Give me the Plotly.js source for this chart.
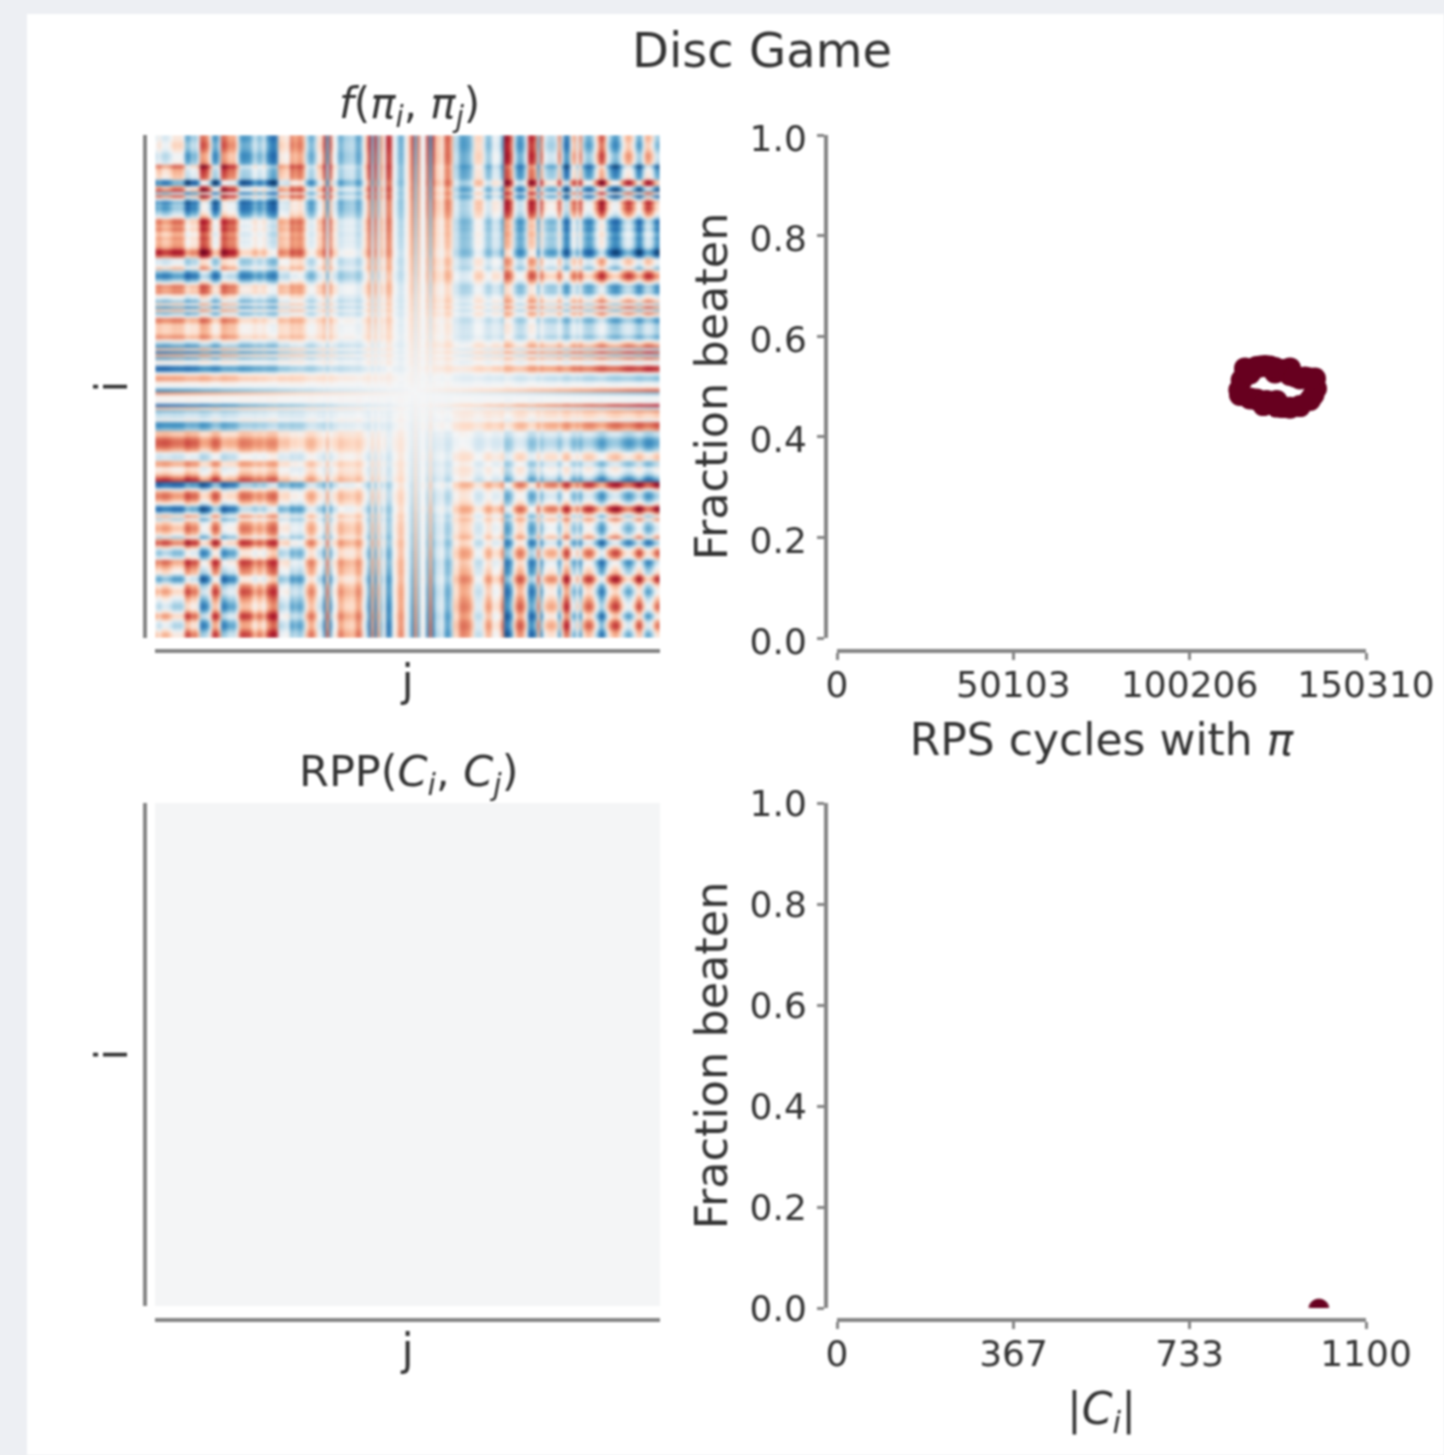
<!DOCTYPE html>
<html>
<head>
<meta charset="utf-8">
<script src="https://cdn.plot.ly/plotly-3.0.1.min.js"></script>
<style>
html,body{margin:0;padding:0;background:#edeff3;}
#chart{width:1444px;height:1455px;filter:blur(1.3px);}
</style>
</head>
<body>
<div id="chart"></div>
<script>
// Profile of the columns of f(pi_i, pi_j), read along the top edge of the panel
const columnProfile = [.05,-.1,.1,.15,.1,-.05,-.2,-.15,-.2,-.05,
 .55,.5,.3,.4,.1,-.7,-.65,-.55,-.1,.6,
 .65,.3,-.7,-.65,-.5,-.45,-.5,-.1,.55,.65,
 .6,.6,.4,.2,.45,.4,.2,.6,.75,.85,
 .75,-.25,-.2,-.15,-.1,-.6,-.45,-.5,-.6,-.4,
 .2,.5,.55,.3,-.15,-.2,-.75,.6,-.7,-.05,
 .05,.55,.5,.35,.35,.3,.35,.6,.55,.05,
 -.3,-.85,.5,-.8,.45,-.5,0,-.85,-.8,0,
 .15,.55,.55,.05,-.3,-.75,.55,-.6,.05,0,
 -.75,.65,-.75,-.3,-.3,-.1,-.6,-.7,-.4,.3,
 .3,.6,.65,.6,.55,.3,-.2,-.25,-.2,.2,
 .5,.45,.05,.1,.15,.6,-.95,-.9,-.6,.2,
 .6,.7,.55,.1,-.8,-.85,-.6,.5,-.6,.1,
 .3,.35,.35,.2,-.5,.3,.85,.75,-.1,-.45,
 .1,-.5,.3,.55,.6,.45,0,-.4,-.75,-.5,
 .1,.45,.65,.7,.5,.05,-.25,-.4,-.25,.1,
 .55,.6,.1,-.35,-.35,-.1,.35,.5];
// Profile of the rows of f(pi_i, pi_j), read along the left edge of the panel
const rowProfile = [-.05,-.05,.05,.1,.05,-.05,-.2,-.2,-.15,-.05,
 .6,.3,.25,.2,.15,-.7,-.7,.35,.7,-.4,
 .6,-.1,-.7,-.5,-.6,-.45,-.3,0,.55,.55,
 .4,.55,.35,.3,.45,.35,.4,.45,.8,.9,
 .6,-.15,-.2,-.05,.3,-.4,-.7,-.75,-.4,.1,
 .6,.45,.55,.1,-.1,-.5,.2,-.6,.3,-.5,
 0,.6,.5,.25,.3,.25,.35,.55,.1,-.35,
 -.7,.3,-.8,.4,-.6,.1,-.1,-.9,-.85,0,
 .4,.5,.1,0,-.2,-.7,.5,0,.05,0,
 -.9,.3,-.5,-.25,-.25,.05,-.7,-.7,-.5,.35,
 .35,.6,.7,.7,.6,.4,-.1,-.25,-.2,.45,
 .45,.05,.15,.3,.6,.85,-.9,-.85,-.1,.45,
 .6,.55,.3,-.05,-.8,-.85,-.3,.3,-.3,.2,
 .35,.45,.35,.15,-.3,.5,.75,.3,-.2,-.45,
 -.35,-.05,.6,.5,.35,.2,.1,-.4,-.6,-.35,
 .1,.25,.4,.3,.1,-.05,-.2,-.3,-.2,.1,
 .4,.3,-.05,-.2,-.2,.05,.25,.3];
const centreFade = [-1.00,-.99,-.98,-.97,-.96,-.94,-.93,-.92,-.91,-.90,
 -.88,-.87,-.86,-.85,-.84,-.83,-.81,-.80,-.79,-.78,
 -.77,-.76,-.74,-.73,-.72,-.71,-.70,-.69,-.67,-.66,
 -.65,-.64,-.63,-.62,-.60,-.59,-.58,-.57,-.56,-.55,
 -.53,-.52,-.51,-.50,-.49,-.48,-.47,-.45,-.44,-.43,
 -.42,-.41,-.40,-.38,-.37,-.36,-.35,-.34,-.33,-.31,
 -.30,-.29,-.28,-.27,-.26,-.24,-.23,-.22,-.21,-.20,
 -.19,-.17,-.16,-.15,-.14,-.13,-.12,-.10,-.09,-.08,
 -.07,-.06,-.05,-.03,-.02,-.01,0,.01,.02,.03,
 .05,.06,.07,.08,.09,.10,.12,.13,.14,.15,
 .16,.17,.19,.20,.21,.22,.23,.24,.26,.27,
 .28,.29,.30,.31,.33,.34,.35,.36,.37,.38,
 .40,.41,.42,.43,.44,.45,.47,.48,.49,.50,
 .51,.52,.53,.55,.56,.57,.58,.59,.60,.62,
 .63,.64,.65,.66,.67,.69,.70,.71,.72,.73,
 .74,.76,.77,.78,.79,.80,.81,.83,.84,.85,
 .86,.87,.88,.90,.91,.92,.93,.94];
const rppValues = [[0,0],[0,0]];

const rpsCycles = [114980,114320,114510,115930,117350,117350,119240,119240,122090,121140,124930,124930,128710,131560,134400,135350,136100,135820,134400,131560,128710,128710,126820,124450,124450,121610,116600,120300,123000,133000,130200,126600];
const rpsFraction = [.513,.493,.483,.536,.526,.476,.474,.539,.471,.463,.471,.460,.458,.461,.473,.483,.496,.516,.516,.516,.523,.536,.533,.528,.537,.541,.532,.540,.540,.518,.520,.459];
const sizeCi = [998,1002,1006];
const sizeFraction = [0,0.002,0];

const fractionTicks = [0,.2,.4,.6,.8,1];
const fractionLabels = ['0.0','0.2','0.4','0.6','0.8','1.0'];
const rpsTicks = [0,50103,100206,150310];
const rpsLabels = ['0','50103','100206','150310'];
const sizeTicks = [0,367,733,1100];
const sizeLabels = ['0','367','733','1100'];

const RdBu = [[0,'#67001f'],[.1,'#b2182b'],[.2,'#d6604d'],[.3,'#f4a582'],[.4,'#fddbc7'],[.5,'#f4f5f6'],[.6,'#d1e5f0'],[.7,'#92c5de'],[.8,'#4393c3'],[.9,'#2166ac'],[1,'#053061']];
const W = 1444, H = 1455;
const fx = p => p / W, fy = p => 1 - p / H;
const FONT = 'DejaVu Sans', INK = '#333333', SPINE = '#858585', DOT = '#67001f';

const z = rowProfile.map((ri,i) => centreFade.map((xj,j) => ri * xj - centreFade[i] * columnProfile[j]));

const traces = [
 {type:'heatmap', z:z, xaxis:'x', yaxis:'y', colorscale:RdBu, zmin:-1.1, zmax:1.1, showscale:false, hoverinfo:'skip'},
 {type:'scatter', mode:'markers', x:rpsCycles, y:rpsFraction, xaxis:'x2', yaxis:'y2', marker:{color:DOT,size:22,line:{width:0}}, hoverinfo:'skip'},
 {type:'heatmap', z:rppValues, xaxis:'x3', yaxis:'y3', colorscale:RdBu, zmin:-1, zmax:1, showscale:false, hoverinfo:'skip'},
 {type:'scatter', mode:'markers', x:sizeCi, y:sizeFraction, xaxis:'x4', yaxis:'y4', marker:{color:DOT,size:17,opacity:.85,line:{width:0}}, hoverinfo:'skip'}
];

const tf = {family:FONT,size:36,color:INK};
const lf = {family:FONT,size:44,color:INK};
function hmX(y){return {domain:[fx(155),fx(660)],anchor:'free',position:fy(y),showgrid:false,zeroline:false,showticklabels:false,ticks:'',showline:true,linecolor:SPINE,linewidth:4,title:{text:'j',font:lf,standoff:12}};}
function hmY(t,b){return {domain:[fy(b),fy(t)],anchor:'free',position:fx(145),autorange:'reversed',showgrid:false,zeroline:false,showticklabels:false,ticks:'',showline:true,linecolor:SPINE,linewidth:4,title:{text:'i',font:lf,standoff:1}};}
function scX(y,range,vals,text,title,so){return {domain:[fx(837),fx(1366)],anchor:'free',position:fy(y),range:range,tickmode:'array',tickvals:vals,ticktext:text,tickfont:tf,ticks:'outside',ticklen:7,tickwidth:3,tickcolor:SPINE,ticklabelstandoff:-6,showgrid:false,zeroline:false,showline:true,linecolor:SPINE,linewidth:4,title:{text:title,font:lf,standoff:so}};}
function scY(t,b,shift){return {domain:[fy(b),fy(t)],anchor:'free',position:fx(826),range:[0,1],tickmode:'array',tickvals:fractionTicks,ticktext:fractionLabels,tickfont:tf,ticks:'outside',ticklen:7,tickwidth:3,tickcolor:SPINE,ticklabelshift:shift,ticklabelstandoff:3,showgrid:false,zeroline:false,showline:true,linecolor:SPINE,linewidth:4,title:{text:'Fraction beaten',font:{family:FONT,size:44.5,color:INK},standoff:7}};}

const layout = {
 width:W,height:H,margin:{l:0,r:0,t:0,b:0},paper_bgcolor:'#edeff3',plot_bgcolor:'rgba(0,0,0,0)',showlegend:false,font:{family:FONT,color:INK},
 title:{text:'Disc Game',x:fx(762),xanchor:'center',y:fy(50),yanchor:'middle',font:{family:FONT,size:48,color:INK}},
 shapes:[{type:'rect',xref:'paper',yref:'paper',x0:fx(27),x1:1,y0:0,y1:fy(14),fillcolor:'#ffffff',line:{width:0},layer:'below'}],
 xaxis:hmX(651),yaxis:hmY(135,638),
 xaxis2:scX(651,[0,150310],rpsTicks,rpsLabels,'RPS cycles with <i>π</i>',19),yaxis2:scY(135,638,3),
 xaxis3:hmX(1320),yaxis3:hmY(803,1306),
 xaxis4:scX(1320,[0,1100],sizeTicks,sizeLabels,'|<i>C<sub>i</sub></i>|',19),yaxis4:scY(803,1308,0),
 annotations:[
  {xref:'paper',yref:'paper',x:fx(409),y:fy(107),xanchor:'center',yanchor:'middle',showarrow:false,text:'<i>f</i>(<i>π<sub>i</sub></i>, <i>π<sub>j</sub></i>)',font:{family:FONT,size:42,color:INK}},
  {xref:'paper',yref:'paper',x:fx(408),y:fy(774),xanchor:'center',yanchor:'middle',showarrow:false,text:'RPP(<i>C<sub>i</sub></i>, <i>C<sub>j</sub></i>)',font:{family:FONT,size:43,color:INK}}
 ]
};
Plotly.newPlot('chart',traces,layout,{displayModeBar:false,staticPlot:true}).then(gd=>{
 const img = gd.querySelector('.heatmaplayer image');
 if(img){img.style.filter='blur(1.4px)';}
});
</script>
</body>
</html>
